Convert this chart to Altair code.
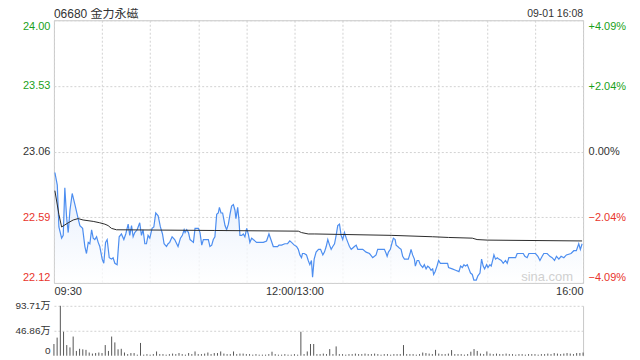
import altair as alt
import pandas as pd

# ---------------- data ----------------
TITLE = "06680 金力永磁"
STAMP = "09-01 16:08"
WATERMARK = "sina.com"
PREV_CLOSE = 23.06
Y_MIN, Y_MAX = 22.12, 24.00
PCT = 4.09
VOL_MAX = 93.71
PRICE_TICKS = [22.12, 22.59, 23.06, 23.53, 24.00]
PCT_TICKS = [-4.09, -2.04, 0.0, 2.04, 4.09]
VOL_TICKS = [0, 46.86, 93.71]
TIME_TICKS = list(range(0, 331, 30))  # trading minutes since 09:30 (lunch removed)

price_min = [0.6, 2.1, 3.1, 4.8, 5.8, 6.8, 7.9, 8.9, 10.0, 11.4, 13.1, 15.1, 16.2, 17.9, 19.3, 20.3, 21.4, 22.4,
             23.5, 24.5, 25.5, 26.6, 27.6, 28.6, 30.1, 31.1, 32.2, 33.2, 34.5, 35.9, 36.9, 38.0, 39.4, 40.7, 42.1,
             43.6, 44.8, 46.3, 47.3, 48.4, 49.4, 50.4, 51.9, 53.5, 54.6, 55.6, 56.7, 57.7, 58.7, 59.8, 61.2, 62.3,
             63.5, 65.0, 66.4, 67.7, 68.7, 70.2, 71.2, 72.2, 73.7, 75.3, 77.4, 78.9, 80.1, 81.2, 81.8, 82.8, 83.9,
             84.9, 87.0, 88.0, 90.1, 91.1, 92.2, 93.2, 94.2, 96.3, 97.3, 98.4, 99.4, 100.4, 101.5, 102.5, 103.2,
             104.2, 105.2, 106.7, 107.7, 108.8, 109.8, 110.8, 111.9, 112.9, 113.5, 114.6, 115.4, 116.0, 117.1,
             118.1, 119.1, 120.2, 121.2, 122.2, 123.3, 124.3, 126.4, 130.6, 132.6, 134.1, 135.3, 136.8, 139.5,
             140.3, 142.0, 144.0, 145.7, 147.1, 148.2, 149.9, 151.3, 152.4, 153.4, 154.4, 155.0, 156.1, 157.5,
             158.6, 159.6, 160.6, 161.3, 162.3, 163.5, 165.0, 166.3, 167.7, 168.7, 169.8, 170.8, 171.9, 172.9,
             173.9, 175.0, 176.0, 177.0, 178.1, 179.1, 180.1, 181.2, 182.3, 183.3, 184.3, 185.4, 186.4, 187.4,
             188.5, 189.5, 192.6, 194.7, 196.8, 198.8, 199.9, 200.9, 201.9, 206.1, 207.2, 207.8, 208.6, 209.8,
             210.7, 211.7, 212.8, 213.4, 214.4, 215.4, 216.5, 217.5, 218.6, 221.0, 222.1, 222.7, 223.7, 224.8,
             225.4, 226.5, 227.5, 228.5, 230.0, 231.0, 232.1, 233.1, 234.1, 235.2, 236.2, 236.8, 237.7, 238.9,
             239.9, 241.0, 245.5, 246.1, 248.4, 250.5, 252.6, 253.6, 254.7, 255.7, 256.7, 257.8, 258.8, 259.8,
             260.9, 261.9, 263.4, 264.4, 265.7, 266.7, 267.7, 268.6, 269.8, 270.7, 271.9, 272.7, 273.8, 274.4,
             275.4, 276.5, 277.5, 279.0, 280.2, 281.6, 282.7, 283.7, 287.9, 288.9, 292.7, 293.7, 295.1, 296.2,
             300.3, 301.8, 303.1, 304.5, 305.5, 307.6, 309.3, 310.7, 312.2, 313.4, 314.9, 316.3, 318.0, 319.6,
             322.5, 324.2, 325.8, 327.3, 328.3, 329.4]
price_val = [22.91, 22.82, 22.52, 22.44, 22.46, 22.80, 22.59, 22.48, 22.64, 22.76, 22.68, 22.58, 22.53, 22.51,
             22.38, 22.33, 22.41, 22.40, 22.50, 22.44, 22.43, 22.45, 22.41, 22.38, 22.29, 22.26, 22.41, 22.43,
             22.30, 22.29, 22.30, 22.26, 22.25, 22.45, 22.47, 22.43, 22.47, 22.54, 22.46, 22.53, 22.45, 22.48,
             22.50, 22.55, 22.46, 22.50, 22.40, 22.40, 22.46, 22.44, 22.51, 22.52, 22.62, 22.60, 22.52, 22.47,
             22.40, 22.38, 22.40, 22.41, 22.45, 22.43, 22.38, 22.44, 22.46, 22.50, 22.48, 22.50, 22.48, 22.43,
             22.41, 22.51, 22.51, 22.48, 22.39, 22.43, 22.43, 22.43, 22.38, 22.39, 22.43, 22.45, 22.61, 22.62,
             22.66, 22.62, 22.62, 22.53, 22.50, 22.54, 22.61, 22.67, 22.68, 22.64, 22.58, 22.66, 22.57, 22.46,
             22.46, 22.47, 22.45, 22.51, 22.47, 22.41, 22.44, 22.43, 22.41, 22.41, 22.42, 22.47, 22.43, 22.38,
             22.38, 22.39, 22.39, 22.40, 22.40, 22.42, 22.41, 22.39, 22.38, 22.36, 22.32, 22.30, 22.33, 22.33,
             22.32, 22.28, 22.25, 22.28, 22.16, 22.29, 22.34, 22.36, 22.36, 22.32, 22.34, 22.38, 22.43, 22.39,
             22.36, 22.38, 22.40, 22.46, 22.53, 22.54, 22.46, 22.43, 22.48, 22.44, 22.41, 22.38, 22.36, 22.37,
             22.38, 22.39, 22.36, 22.36, 22.34, 22.33, 22.30, 22.31, 22.32, 22.36, 22.36, 22.33, 22.31, 22.34,
             22.36, 22.40, 22.44, 22.43, 22.39, 22.38, 22.37, 22.36, 22.31, 22.29, 22.29, 22.33, 22.36, 22.32,
             22.29, 22.24, 22.28, 22.28, 22.25, 22.23, 22.25, 22.22, 22.24, 22.23, 22.21, 22.22, 22.18, 22.20,
             22.24, 22.28, 22.26, 22.26, 22.23, 22.22, 22.21, 22.20, 22.24, 22.23, 22.25, 22.24, 22.25, 22.22,
             22.19, 22.18, 22.14, 22.14, 22.17, 22.19, 22.29, 22.24, 22.22, 22.25, 22.23, 22.25, 22.24, 22.29,
             22.32, 22.29, 22.30, 22.29, 22.28, 22.26, 22.28, 22.26, 22.30, 22.30, 22.33, 22.33, 22.31, 22.30,
             22.33, 22.33, 22.31, 22.28, 22.31, 22.33, 22.33, 22.31, 22.30, 22.28, 22.31, 22.29, 22.31, 22.30,
             22.32, 22.33, 22.35, 22.35, 22.40, 22.36, 22.40]

avg_min = [0.6, 3.1, 4.8, 8.9, 12.0, 15.1, 18.2, 24.5, 28.6, 31.8, 33.8, 35.9, 39.0, 100.0, 152.4, 154.4,
           158.6, 162.7, 210.3, 236.2, 246.1, 260.9, 263.9, 270.2, 329.4]
avg_val = [22.78, 22.61, 22.52, 22.55, 22.57, 22.58, 22.57, 22.56, 22.55, 22.54, 22.53, 22.51, 22.50, 22.495,
           22.49, 22.48, 22.47, 22.47, 22.46, 22.45, 22.445, 22.44, 22.43, 22.426, 22.42]

# volume (万), one bar per two trading minutes
vol_val = [22, 34, 93.7, 45, 20, 15.6, 36, 9, 13, 12, 11, 6, 4, 5, 6, 5, 20, 9, 36, 25,
           12, 13, 6, 3, 5, 5, 2, 24, 2, 3, 2, 3, 8, 3, 3, 2, 3, 4, 3, 5,
           3, 2, 5, 3, 8, 3, 3, 4, 6, 3, 5, 5, 8, 4, 3, 3, 8, 3, 4, 4,
           3, 3, 2, 3, 2, 2, 2, 3, 7.5, 3, 2, 2, 3, 2, 2, 3, 2, 45, 3, 8,
           22, 22, 3, 3, 4, 3, 12.5, 3, 17.5, 3, 3, 2, 3, 3, 4, 3, 3, 4, 3, 3,
           4, 3, 2, 3, 3, 2, 3, 3, 3, 20, 3, 3, 3, 2, 3, 6, 5, 4, 3, 11,
           4, 3, 3, 4, 10.6, 3, 3, 3, 2, 3, 7.5, 12.5, 9, 4, 3, 8, 4, 3, 4, 3,
           3, 4, 3, 3, 2, 3, 3, 2, 3, 3, 3, 2, 3, 3, 4, 3, 5, 4, 3, 4,
           5, 4, 3, 5, 5, 6]

# ---------------- styling ----------------
FONT = "Liberation Sans, Arial, Noto Sans CJK SC, sans-serif"
GREEN = "#1a9f1a"
RED = "#e8342c"
DARK = "#333333"
GRID = "#d2d2d2"
BORDER = "#c8c8c8"
W, H_PRICE, H_VOL = 530, 263, 50

price_df = pd.DataFrame({"m": price_min, "p": price_val})
avg_df = pd.DataFrame({"m": avg_min, "p": avg_val})
vol_df = pd.DataFrame({"m": [2 * i for i in range(len(vol_val))], "v": vol_val})
pct_df = pd.DataFrame({"pct": [-PCT, PCT]})

x_scale = alt.Scale(domain=[0, 330], nice=False, zero=False)
y_scale = alt.Scale(domain=[Y_MIN, Y_MAX], nice=False, zero=False)

x_axis = alt.Axis(
    values=TIME_TICKS,
    labelExpr="datum.value == 0 ? '09:30' : datum.value == 150 ? '12:00/13:00' : datum.value == 330 ? '16:00' : ''",
    grid=True, gridDash=[2, 2], gridColor=GRID, ticks=False, domain=False,
    labelFlush=True, labelOverlap=False, labelColor=DARK, labelFontSize=11, labelPadding=3, title=None)

y_axis = alt.Axis(
    values=PRICE_TICKS, format=".2f", grid=True, gridDash=[2, 2], gridColor=GRID,
    ticks=False, domain=False, labelFlush=True, labelOverlap=False, labelFontSize=11, labelPadding=4,
    labelColor={"condition": [{"test": f"datum.value > {PREV_CLOSE + 0.001}", "value": GREEN},
                              {"test": f"datum.value < {PREV_CLOSE - 0.001}", "value": RED}],
                "value": DARK},
    title=None)

pct_axis = alt.Axis(
    orient="right", values=PCT_TICKS,
    labelExpr="(datum.value > 0 ? '+' : '') + format(datum.value, '.2f') + '%'",
    grid=False, ticks=False, domain=False, labelFlush=True, labelOverlap=False, labelFontSize=11, labelPadding=5,
    labelColor={"condition": [{"test": "datum.value > 0.001", "value": GREEN},
                              {"test": "datum.value < -0.001", "value": RED}],
                "value": DARK},
    title=None)

grad = alt.Gradient(gradient="linear",
                    stops=[alt.GradientStop(color="#dce8fb", offset=0),
                           alt.GradientStop(color="#ffffff", offset=1)],
                    x1=1, x2=1, y1=0, y2=1)

X = alt.X("m:Q", scale=x_scale, axis=x_axis)
Y = alt.Y("p:Q", scale=y_scale, axis=y_axis)

area = alt.Chart(price_df).mark_area(color=grad, opacity=0.75).encode(x=X, y=Y, y2=alt.datum(Y_MIN))
line = alt.Chart(price_df).mark_line(color="#4d8ef0", strokeWidth=1.2).encode(x=X, y=Y)
avg = alt.Chart(avg_df).mark_line(color="#2b2b2b", strokeWidth=1).encode(x=X, y=Y)

title_txt = alt.Chart(pd.DataFrame({"t": [TITLE]})).mark_text(
    align="left", baseline="middle", fontSize=12, color=DARK).encode(
    text="t:N", x=alt.value(0), y=alt.value(-6))
stamp_txt = alt.Chart(pd.DataFrame({"t": [STAMP]})).mark_text(
    align="right", baseline="middle", fontSize=10.5, color=DARK).encode(
    text="t:N", x=alt.value(W), y=alt.value(-6))
sina_txt = alt.Chart(pd.DataFrame({"t": [WATERMARK]})).mark_text(
    align="right", baseline="middle", fontSize=13, color="#d0d0d0").encode(
    text="t:N", x=alt.value(W - 10), y=alt.value(H_PRICE - 6))

pct_layer = alt.Chart(pct_df).mark_point(opacity=0).encode(
    y=alt.Y("pct:Q", scale=alt.Scale(domain=[-PCT, PCT], nice=False, zero=False), axis=pct_axis))

price_inner = alt.layer(area, line, avg, title_txt, stamp_txt, sina_txt)
top = alt.layer(price_inner, pct_layer).resolve_scale(y="independent").properties(
    width=W, height=H_PRICE, view=alt.ViewBackground(stroke=BORDER))

vol_scale = alt.Scale(domain=[0, VOL_MAX], nice=False, zero=True)
vol_axis = alt.Axis(
    values=VOL_TICKS,
    labelExpr="datum.value == 0 ? '0' : format(datum.value, '.2f') + '万'",
    grid=True, gridDash=[2, 2], gridColor=GRID,
    gridOpacity={"condition": {"test": "datum.value == 0", "value": 0}, "value": 1},
    labelBaseline={"condition": {"test": "datum.value == 0", "value": "bottom"}, "value": "middle"},
    ticks=False, domain=False, labelOverlap=False, labelFontSize=10, labelPadding=4, labelColor=DARK,
    title=None)

bars = alt.Chart(vol_df).mark_rule(color="#555555", strokeWidth=1).encode(
    x=alt.X("m:Q", scale=x_scale, axis=None),
    y=alt.Y("v:Q", scale=vol_scale, axis=vol_axis),
    y2=alt.datum(0))
right_edge = alt.Chart(pd.DataFrame({"v": [0, VOL_MAX]})).mark_point(opacity=0).encode(
    y=alt.Y("v:Q", scale=vol_scale,
            axis=alt.Axis(orient="right", labels=False, ticks=False, grid=False, domain=True,
                          domainColor=BORDER, title=None)))

bottom = alt.layer(bars, right_edge).resolve_scale(y="independent").properties(
    width=W, height=H_VOL, view=alt.ViewBackground(stroke="transparent"))

chart = alt.vconcat(top, bottom, spacing=2).properties(
    padding={"left": 6, "top": -1, "right": 5, "bottom": 5}
).configure(font=FONT).configure_axis(labelFont=FONT).configure_text(font=FONT)

chart.save("out.html", embed_options={"renderer": "svg", "actions": False})
